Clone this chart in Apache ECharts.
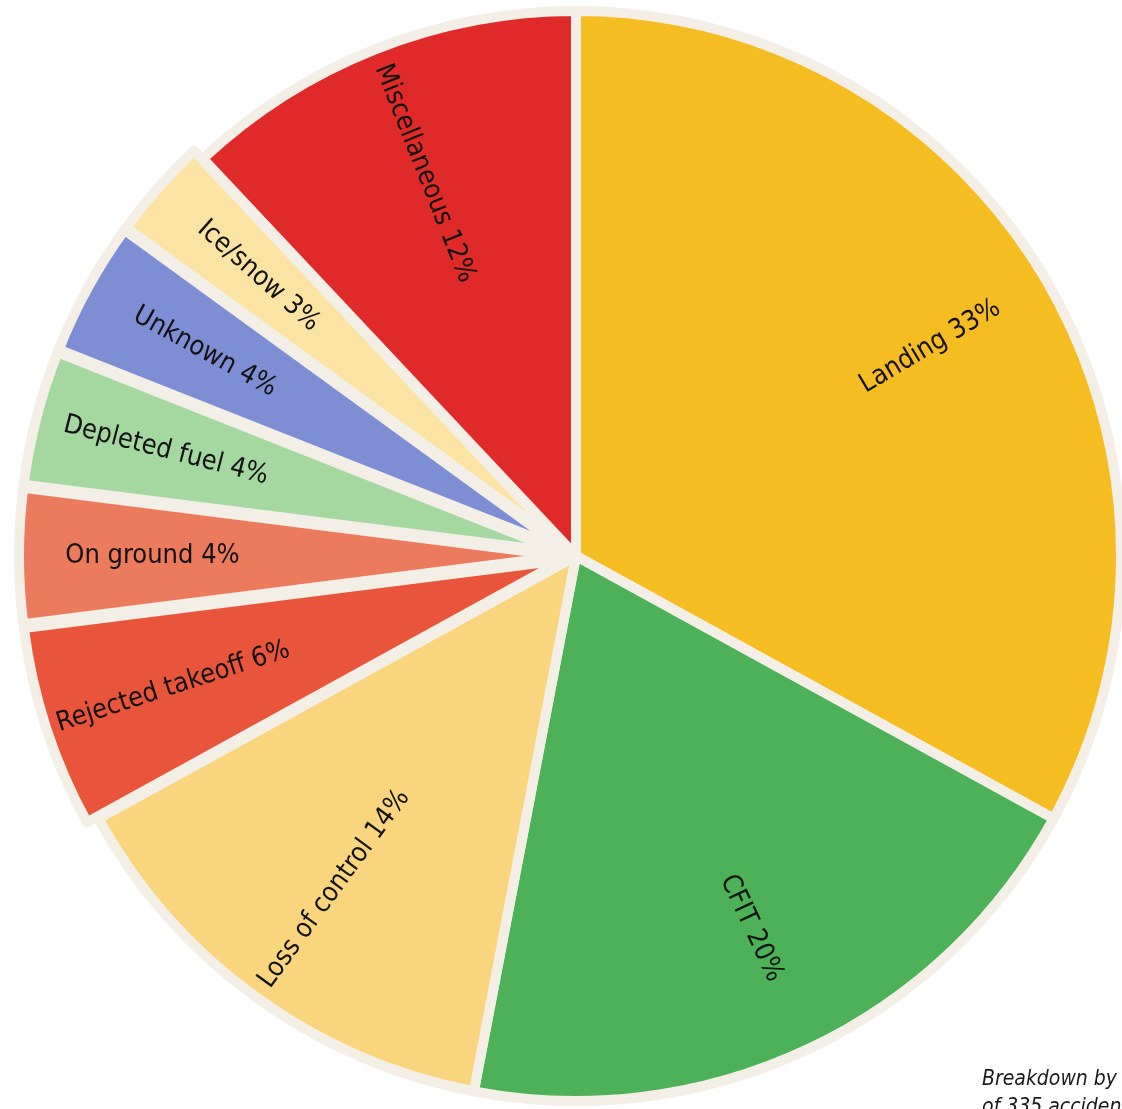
<!DOCTYPE html>
<html>
<head>
<meta charset="utf-8">
<script src="https://cdn.jsdelivr.net/npm/echarts@6/dist/echarts.min.js"></script>
<style>
  html, body { margin: 0; padding: 0; background: #ffffff; }
  #chart { width: 1122px; height: 1109px; }
</style>
</head>
<body>
<div id="chart"></div>
<script>
// Accident causes, clockwise from 12 o'clock
const categories = ['Landing', 'CFIT', 'Loss of control', 'Rejected takeoff', 'On ground',
                    'Depleted fuel', 'Unknown', 'Ice/snow', 'Miscellaneous'];
const shares = [33, 20, 14, 6, 4, 4, 4, 3, 12];
const sliceColors = ['#f6bd22', '#4cb158', '#f9d57e', '#e8553a', '#ec7a5d',
                     '#a5d8a0', '#7d8ed4', '#fbe3a3', '#e02a2a'];
// the thin slices on the left are pulled slightly away from the centre
const pulledOut = ['Rejected takeoff', 'On ground', 'Depleted fuel', 'Unknown', 'Ice/snow'];
const noteLines = ['Breakdown by cause', 'of 335 accidents'];

const labelFont = '"Liberation Sans Narrow", "DejaVu Sans Condensed", sans-serif';
const CENTER = [576, 556];
const OUTER = 545;

const chart = echarts.init(document.getElementById('chart'), null, { renderer: 'canvas' });

chart.setOption({
  backgroundColor: '#ffffff',
  animation: false,
  series: [
    {
      // filled wedges separated by pale gaps
      type: 'pie',
      center: CENTER,
      radius: [0, OUTER],
      startAngle: 90,
      clockwise: true,
      selectedMode: 'multiple',
      selectedOffset: 12,
      emphasis: { disabled: true },
      label: { show: false },
      labelLine: { show: false },
      itemStyle: {
        borderColor: '#f3efe6',
        borderWidth: 10,
        borderJoin: 'round'
      },
      data: categories.map((name, i) => ({
        name: name,
        value: shares[i],
        selected: pulledOut.includes(name),
        itemStyle: { color: sliceColors[i] }
      }))
    },
    {
      // transparent ring that carries the radial labels further out
      type: 'pie',
      center: CENTER,
      radius: [272, OUTER],
      startAngle: 90,
      clockwise: true,
      selectedMode: 'multiple',
      selectedOffset: 12,
      emphasis: { disabled: true },
      itemStyle: { color: 'rgba(0,0,0,0)', borderWidth: 0 },
      labelLine: { show: false },
      label: {
        show: true,
        position: 'inside',
        rotate: 'radial',
        formatter: '{b} {c}%',
        fontFamily: labelFont,
        fontSize: 27,
        color: '#121212'
      },
      data: categories.map((name, i) => ({
        name: name,
        value: shares[i],
        selected: pulledOut.includes(name)
      }))
    }
  ],
  graphic: [
    {
      type: 'text',
      left: 982,
      top: 1066,
      silent: true,
      style: {
        text: noteLines.join('\n'),
        fontFamily: labelFont,
        fontStyle: 'italic',
        fontSize: 21,
        lineHeight: 28,
        fill: '#1a1a1a'
      }
    }
  ]
});
</script>
</body>
</html>
